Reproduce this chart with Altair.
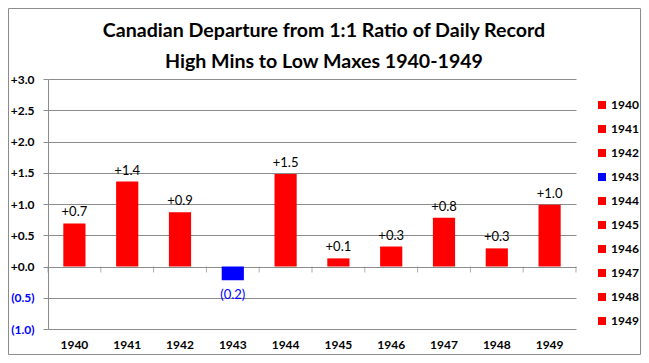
import altair as alt
import pandas as pd

years = ["1940", "1941", "1942", "1943", "1944", "1945", "1946", "1947", "1948", "1949"]
values = [0.69, 1.36, 0.87, -0.22, 1.48, 0.13, 0.32, 0.78, 0.29, 0.99]
bar_colors = ["#ff0000", "#ff0000", "#ff0000", "#0000ff", "#ff0000",
              "#ff0000", "#ff0000", "#ff0000", "#ff0000", "#ff0000"]
y_ticks = [-1.0, -0.5, 0.0, 0.5, 1.0, 1.5, 2.0, 2.5, 3.0]
title_lines = ["Canadian Departure from 1:1 Ratio of Daily Record",
               "High Mins to Low Maxes 1940-1949"]

df = pd.DataFrame({"year": years, "value": values})
bounds_df = pd.DataFrame({"b": list(range(len(years) + 1)), "zero": [0.0] * (len(years) + 1)})

FONT = "Lato"
GRID = "#8c8c8c"
W, H = 528, 250
PAD_L, PAD_T, PAD_R, PAD_B = 40, 71, 65, 26

xscale = alt.Scale(domain=years, paddingInner=0.58, paddingOuter=0.29)
yscale = alt.Scale(domain=[-1, 3], nice=False, zero=False)

yaxis = alt.Axis(
    values=y_ticks, title=None, grid=True, gridColor=GRID, domainColor=GRID,
    tickColor=GRID, tickSize=5, labelPadding=9, labelFont=FONT, labelFontSize=12,
    labelFontWeight="bold",
    labelExpr="datum.value < 0 ? '(' + format(-datum.value, '.1f') + ')' : '+' + format(datum.value, '.1f')",
    labelColor=alt.ExprRef("datum.value < 0 ? '#0000ff' : '#000000'"),
)

bars = alt.Chart(df).mark_bar().encode(
    x=alt.X("year:N", scale=xscale, sort=years,
            axis=alt.Axis(title=None, domain=False, ticks=False, labelAngle=0,
                          labelPadding=10, labelFont=FONT, labelFontSize=12,
                          labelFontWeight="bold", labelColor="black")),
    y=alt.Y("value:Q", scale=yscale, axis=yaxis),
    color=alt.Color("year:N", scale=alt.Scale(domain=years, range=bar_colors),
                    legend=alt.Legend(title=None, orient="none", legendX=548, legendY=20,
                                      symbolType="square", symbolSize=64,
                                      symbolStrokeWidth=0, labelFont=FONT,
                                      labelFontSize=12, labelFontWeight="bold",
                                      labelColor="black", rowPadding=12,
                                      labelOffset=3, padding=0)),
)

pos_text = alt.Chart(df).transform_filter("datum.value >= 0").transform_calculate(
    lab="'+' + format(datum.value, '.1f')"
).mark_text(baseline="bottom", dy=-4, font=FONT, fontSize=13, color="black").encode(
    x=alt.X("year:N", scale=xscale, sort=years, axis=None),
    y=alt.Y("value:Q", scale=yscale, axis=yaxis),
    text="lab:N",
)

neg_text = alt.Chart(df).transform_filter("datum.value < 0").transform_calculate(
    lab="'(' + format(-datum.value, '.1f') + ')'"
).mark_text(baseline="top", dy=9, font=FONT, fontSize=13, color="#0000ff").encode(
    x=alt.X("year:N", scale=xscale, sort=years, axis=None),
    y=alt.Y("value:Q", scale=yscale, axis=yaxis),
    text="lab:N",
)

# category boundary ticks hanging from the zero line
zero_ticks = alt.Chart(bounds_df).mark_tick(
    color=GRID, thickness=1, size=6, yOffset=3
).encode(
    x=alt.X("b:Q", scale=alt.Scale(domain=[0, len(years)], nice=False, zero=False), axis=None),
    y=alt.Y("zero:Q", scale=yscale, axis=yaxis),
)

border = alt.Chart(pd.DataFrame({"a": [0]})).mark_rect(
    fill=None, stroke="#8c8c8c", strokeWidth=1
).encode(
    x=alt.value(-PAD_L + 0.5), x2=alt.value(W + PAD_R - 0.5),
    y=alt.value(-PAD_T + 0.5), y2=alt.value(H + PAD_B - 0.5),
)

title = alt.Chart(pd.DataFrame({"a": [0]})).mark_text(
    text=title_lines, font=FONT, fontSize=19.6, fontWeight="bold", color="black",
    align="center", baseline="alphabetic", lineHeight=31
).encode(x=alt.value(276), y=alt.value(-42))

chart = alt.layer(border, title, bars, zero_ticks, pos_text, neg_text).resolve_scale(
    x="independent"
).properties(
    width=W, height=H,
    autosize=alt.AutoSizeParams(type="none"),
    padding={"left": PAD_L, "top": PAD_T, "right": PAD_R, "bottom": PAD_B},
    background="white",
).configure_view(stroke=None)

chart.save("out.html", embed_options={"renderer": "svg", "actions": False})
